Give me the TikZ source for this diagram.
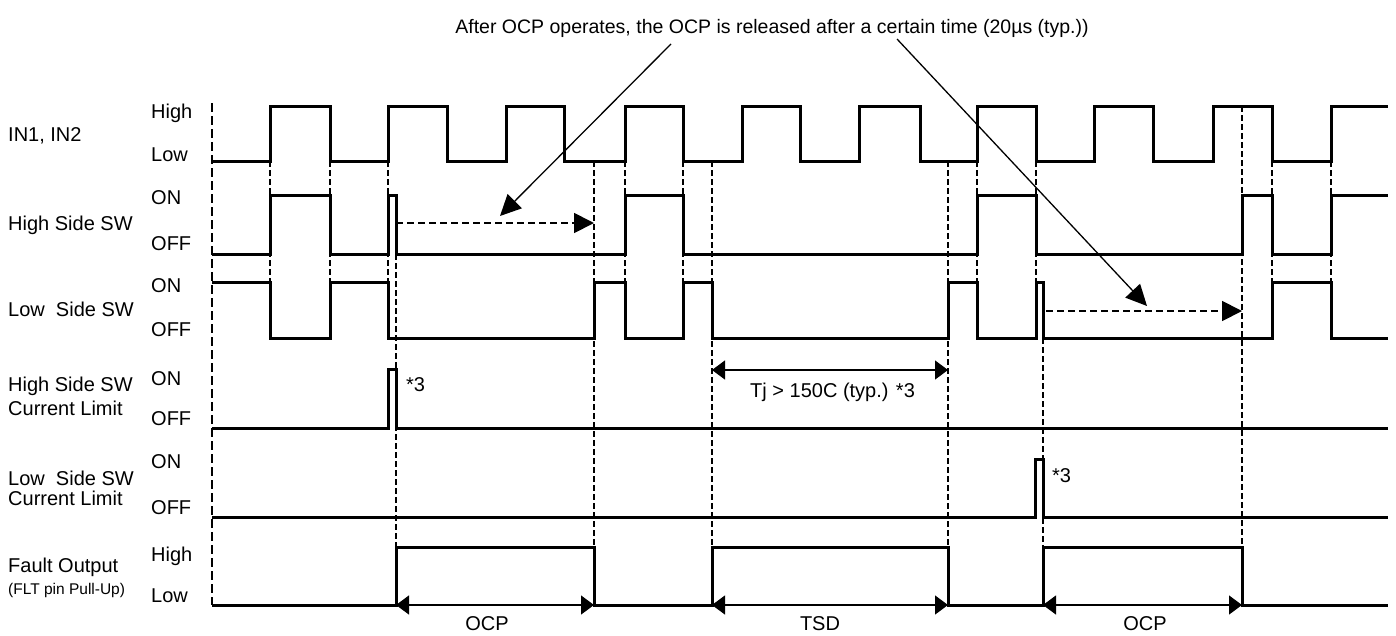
\documentclass[tikz,border=0pt]{standalone}
\usepackage{fontspec}
\setmainfont{Liberation Sans}
\usetikzlibrary{arrows.meta}
\tikzset{
  sig/.style={line width=3pt},
  guide/.style={line width=1.4pt,dash pattern=on 6pt off 3pt},
  border/.style={line width=2pt,dash pattern=on 9pt off 4pt},
  lbl/.style={inner sep=0pt,font=\fontsize{20}{22}\selectfont,anchor=base west},
  sublbl/.style={inner sep=0pt,font=\fontsize{15.5}{18}\selectfont,anchor=base west},
  mid/.style={inner sep=0pt,font=\fontsize{20}{22}\selectfont,anchor=base},
  dimarr/.style={line width=1.2pt,>={Triangle[length=13pt,width=19pt]},<->},
  relarr/.style={line width=1.8pt,dash pattern=on 7pt off 4pt,>={Triangle[length=20pt,width=20pt]},->},
  pointer/.style={line width=1.3pt,>={Triangle[length=21pt,width=20pt]},->},
}
\begin{document}
\begin{tikzpicture}[x=1pt,y=-1pt]
  \useasboundingbox (0,0) rectangle (1396,635);
  % signal names
  \node[lbl] (nin) at (8,141.7) {IN1, IN2};
  \node[lbl] (nhs) at (8,230.7) {High Side SW};
  \node[lbl] (nls) at (8,316.7) {Low\ \ Side SW};
  \node[lbl] (nhcl) at (8,391) {High Side SW};
  \node[lbl] (nhcl2) at (8,415) {Current Limit};
  \node[lbl] (nlcl) at (8,485) {Low\ \ Side SW};
  \node[lbl] (nlcl2) at (8,505) {Current Limit};
  \node[lbl] (nflt) at (8,572.7) {Fault Output};
  \node[sublbl] (nflt2) at (8,594) {(FLT pin Pull-Up)};
  % levels
  \node[lbl] (vinh) at (151,118) {High};
  \node[lbl] (vinl) at (151,161.7) {Low};
  \node[lbl] (vhson) at (151,204) {ON};
  \node[lbl] (vhsoff) at (151,250.7) {OFF};
  \node[lbl] (vlson) at (151,292.7) {ON};
  \node[lbl] (vlsoff) at (151,336.7) {OFF};
  \node[lbl] (vhclon) at (151,385) {ON};
  \node[lbl] (vhcloff) at (151,425.7) {OFF};
  \node[lbl] (vlclon) at (151,468) {ON};
  \node[lbl] (vlcloff) at (151,514) {OFF};
  \node[lbl] (vflth) at (151,561) {High};
  \node[lbl] (vfltl) at (151,602.7) {Low};

  % guide lines
  \draw[border] (212,103) -- (212,605);
  \foreach \x in {270,330,388,625,683,977,1036,1272,1331}
    \draw[guide] (\x,161) -- (\x,282);
  \foreach \x in {594,712,948}
    \draw[guide] (\x,161) -- (\x,547);
  \draw[guide] (396,254) -- (396,547);
  \draw[guide] (1043,338) -- (1043,547);
  \draw[guide] (1242,106) -- (1242,547);

  % IN1, IN2
  \draw[sig] (212,161) \foreach \x/\y in {270/106,330/161,388/106,447/161,506/106,564/161,
    625/106,683/161,742/106,800/161,859/106,920/161,977/106,1036/161,1094/106,1153/161,
    1213/106,1272/161,1331/106} { -| (\x,\y) } -- (1388,106);
  % high side
  \draw[sig] (212,254) \foreach \x/\y in {270/195,330/254,388/195,396/254,625/195,683/254,
    977/195,1036/254,1242/195,1272/254,1331/195} { -| (\x,\y) } -- (1388,195);
  % low side
  \draw[sig] (212,282) \foreach \x/\y in {270/338,330/282,388/338,594/282,625/338,683/282,
    712/338,948/282,977/338,1036/282,1043/338,1272/282,1331/338} { -| (\x,\y) } -- (1388,338);
  % current limits
  \draw[sig] (212,428) -| (388,369) -| (396,428) -- (1388,428);
  \draw[sig] (212,517) -| (1035,459) -| (1043,517) -- (1388,517);
  % fault output
  \draw[sig] (212,605) \foreach \x/\y in {396/547,594/605,712/547,948/605,1043/547,1242/605}
    { -| (\x,\y) } -- (1388,605);

  \node[lbl] (st1) at (406,391) {*3};
  \node[lbl] (st2) at (1052,482) {*3};

  % durations
  \coordinate (tja) at (712,370); \coordinate (tjb) at (948,370);
  \draw[dimarr] (tja) -- (tjb);
  \node[lbl] (tj) at (750,397) {Tj > 150C (typ.) *3};
  \coordinate (oa) at (396,605); \coordinate (ob) at (594,605);
  \draw[dimarr] (oa) -- (ob);
  \node[mid] (ocp1) at (487,630) {OCP};
  \coordinate (ta) at (712,605); \coordinate (tb) at (948,605);
  \draw[dimarr] (ta) -- (tb);
  \node[mid] (tsd) at (820,630) {TSD};
  \coordinate (pa) at (1043,605); \coordinate (pb) at (1242,605);
  \draw[dimarr] (pa) -- (pb);
  \node[mid] (ocp2) at (1145,630) {OCP};

  % release note
  \node[mid,font=\fontsize{19.5}{22}\selectfont] (note) at (772,33)
    {After OCP operates, the OCP is released after a certain time (20µs (typ.))};
  \coordinate (ra) at (396,223); \coordinate (rb) at (594,223);
  \draw[relarr] (ra) -- (rb);
  \coordinate (rc) at (1046,311); \coordinate (rd) at (1242,311);
  \draw[relarr] (rc) -- (rd);
  \coordinate (p1) at (671,44); \coordinate (p1e) at (500,216);
  \coordinate (p2) at (897,39); \coordinate (p2e) at (1147,306);
  \draw[pointer] (p1) -- (p1e);
  \draw[pointer] (p2) -- (p2e);
\end{tikzpicture}
\end{document}
